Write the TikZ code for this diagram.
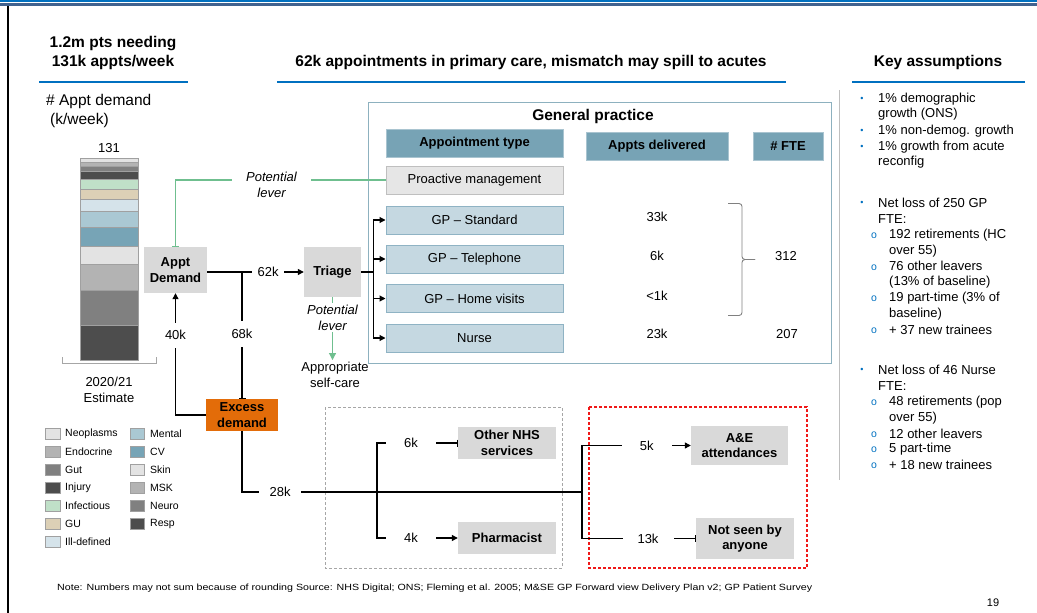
\documentclass[tikz,border=0pt]{standalone}
\usepackage{fontspec}
\usepackage{graphicx}
\setmainfont{Liberation Sans}
\usetikzlibrary{arrows.meta,calc}

\definecolor{topblue}{HTML}{0070C0}
\definecolor{topdark}{HTML}{41628F}
\definecolor{rulegray}{HTML}{BFBFBF}
\definecolor{boxgray}{HTML}{D9D9D9}
\definecolor{lightgray}{HTML}{E6E6E6}
\definecolor{hdrteal}{HTML}{77A3B5}
\definecolor{hdredge}{HTML}{A9C4D0}
\definecolor{rowblue}{HTML}{C5D8E1}
\definecolor{rowedge}{HTML}{8FB3C4}
\definecolor{gpedge}{HTML}{8DB1BF}
\definecolor{lever}{HTML}{6FBF8F}
\definecolor{excess}{HTML}{E36C09}
\definecolor{dashgray}{HTML}{A6A6A6}
\definecolor{dashred}{HTML}{F01818}
\definecolor{cNeo}{HTML}{E3E3E3}
\definecolor{cEndo}{HTML}{B3B3B3}
\definecolor{cGut}{HTML}{808080}
\definecolor{cInj}{HTML}{4D4D4D}
\definecolor{cInf}{HTML}{C0E0C8}
\definecolor{cGU}{HTML}{DCD0B6}
\definecolor{cIll}{HTML}{D5E3EA}
\definecolor{cMent}{HTML}{AAC8D3}
\definecolor{cCV}{HTML}{77A4B6}
\definecolor{segedge}{HTML}{A0A0A0}

\newcommand\setfs[2]{\fontsize{#1}{#2}\selectfont}

\begin{document}
\begin{tikzpicture}[x=1pt,y=-1pt,
  every node/.style={inner sep=0pt, text=black},
  head/.style={font=\setfs{15.5}{19}\bfseries, align=center},
  body/.style={font=\setfs{13}{16}},
  greybox/.style={fill=boxgray, font=\setfs{13}{15.5}\bfseries, align=center},
  colhead/.style={fill=hdrteal, draw=hdredge, line width=1pt, font=\setfs{13}{15.5}\bfseries,
                  minimum height=28pt},
  rowbox/.style={fill=rowblue, draw=rowedge, line width=1pt, font=\setfs{13}{15.5},
                 minimum width=177pt, minimum height=28pt},
  lab/.style={fill=white, font=\setfs{13}{15.5}},
  conn/.style={draw=black, line width=1.1pt},
  arr/.style={conn, -{Triangle[length=6pt,width=6pt]}},
  barr/.style={conn, -{Bar[width=7pt,line width=1pt]}},
  leverline/.style={draw=lever, line width=1.1pt},
  ul/.style={draw=topblue, line width=2pt},
  legtext/.style={font=\setfs{10.5}{12}, anchor=west},
  swatch/.style={draw=segedge, line width=0.8pt},
  ka/.style={font=\setfs{13}{15.5}, anchor=west, align=left},
  dot/.style={font=\setfs{9}{10}, text=topblue},
  ring/.style={font=\setfs{10.5}{10}, text=topblue}
]
\useasboundingbox (0,0) rectangle (1037,613);

% page frame
\fill[topblue] (0,0) rectangle (1037,2.2);
\fill[topdark] (0,3) rectangle (1037,6.2);
\draw[black, line width=2pt] (7.5,6) -- (7.5,613);

% column headings
\node[head] (h1) at (113,52.5) {1.2m pts needing\\131k appts/week};
\node[head] (h2) at (531,62) {62k appointments in primary care, mismatch may spill to acutes};
\node[head] (h3) at (938,62) {Key assumptions};
\draw[ul] (39,82) -- (188,82);
\draw[ul] (277,82) -- (786,82);
\draw[ul] (852,82) -- (1025,82);
\draw[rulegray, line width=1pt] (839,90) -- (839,480);

% demand chart
\node[font=\setfs{15.5}{19}, anchor=west] (yl1) at (46,101) {\# Appt demand};
\node[font=\setfs{15.5}{19}, anchor=west] (yl2) at (50,120) {(k/week)};
\node[font=\setfs{13}{15}] (tot) at (109,148) {131};
\foreach \ya/\yb/\c in {158.3/162.3/cNeo, 162.3/166/cEndo, 166/171/cGut, 171/179/cInj,
    179/189/cInf, 189/199/cGU, 199/211/cIll, 211/227/cMent, 227/246/cCV,
    246/264/cNeo, 264/290/cEndo, 290/325/cGut, 325/360/cInj}
  \filldraw[fill=\c, draw=segedge, line width=0.8pt] (80,\ya) rectangle (138,\yb);
\draw[dashgray, line width=1pt] (62,357) -- (62,363) -- (156,363) -- (156,357);
\node[font=\setfs{13}{16}, align=center] (yr) at (109,390) {2020/21\\Estimate};

% legend
\foreach \i/\c/\t in {0/cNeo/Neoplasms, 1/cEndo/Endocrine, 2/cGut/Gut, 3/cInj/Injury,
    4/cInf/Infectious, 5/cGU/GU, 6/cIll/Ill-defined} {
  \filldraw[swatch, fill=\c] (45,{428.5+18*\i}) rectangle (60,{439.5+18*\i});
  \node[legtext] (la\i) at (65,{434+18*\i}) {\t};
}
\foreach \i/\c/\t in {0/cMent/Mental, 1/cCV/CV, 2/cNeo/Skin, 3/cEndo/MSK,
    4/cGut/Neuro, 5/cInj/Resp} {
  \filldraw[swatch, fill=\c] (130,{428.5+18*\i}) rectangle (144,{439.5+18*\i});
  \node[legtext] (lb\i) at (150,{434+18*\i}) {\t};
}

% demand flow
\node[greybox, minimum width=63pt, minimum height=46pt] (appt) at (175.5,270) {Appt\\Demand};
\node[greybox, minimum width=57pt, minimum height=50pt] (triage) at (332.5,272) {Triage};
\node[greybox, fill=excess, minimum width=72pt, minimum height=32pt] (excess) at (242,415) {Excess\\demand};

% general practice panel
\draw[gpedge, line width=1pt] (368,102) rectangle (831,363);
\node[head] (gp) at (593,116) {General practice};
\node[colhead, minimum width=177pt] (ctype) at (474.5,143) {Appointment type};
\node[colhead, minimum width=142pt] (cdel) at (657,146) {Appts delivered};
\node[colhead, minimum width=70pt] (cfte) at (788,146) {\# FTE};
\node[rowbox, fill=lightgray, draw=rulegray] (pro) at (474.5,180) {Proactive management};
\node[rowbox] (std) at (474.5,220) {GP -- Standard};
\node[rowbox] (tel) at (474.5,259) {GP -- Telephone};
\node[rowbox] (home) at (474.5,298.5) {GP -- Home visits};
\node[rowbox] (nurse) at (474.5,338) {Nurse};
\node[body] (d1) at (657,217) {33k};
\node[body] (d2) at (657,256) {6k};
\node[body] (d3) at (657,296) {<1k};
\node[body] (d4) at (657,334) {23k};
\node[body] (f1) at (786,256) {312};
\node[body] (f2) at (787,334) {207};
% brace grouping the three GP rows
\draw[cGut, line width=0.9pt, rounded corners=3pt]
  (728,203.5) -- (742,203.5) -- (742,259.5) -- (755,259.5);
\draw[cGut, line width=0.9pt, rounded corners=3pt]
  (728,315.5) -- (742,315.5) -- (742,259.5) -- (755,259.5);

% triage branches
\draw[conn, line width=2pt] (triage.east) -- ++(12,0) coordinate (tj);
\foreach \b in {std,tel,home,nurse}
  \draw[arr] (tj) |- (\b.west);

% main flow connectors
\draw[arr] (appt.east |- triage.west) -- node[lab, pos=0.63, minimum width=32pt, minimum height=16pt] (l62) {62k} (triage.west);
\draw[barr] (triage.west -| excess.north) -- node[lab, pos=0.49, minimum height=26pt] (l68) {68k} (excess.north);
\draw[arr] (excess.west) -| node[lab, pos=0.828, minimum height=25pt] (l40) {40k} (appt.south);

% levers
\node[font=\setfs{13}{16}\itshape, align=center, minimum width=79pt] (pl1) at (271.5,185) {Potential\\lever};
\draw[leverline] (pro.west) -- (pl1.east |- pro.west);
\draw[leverline, -{Bar[width=7pt,line width=1pt]}] (pl1.west |- pro.west) -| (appt.north);
\node[font=\setfs{13}{16}\itshape, align=center, minimum height=29pt] (pl2) at (332.5,317.5) {Potential\\lever};
\node[body, align=center, inner ysep=2pt] (self) at (335,375) {Appropriate\\self-care};
\draw[leverline] (triage.south) -- (pl2.north);
\draw[leverline, -{Triangle[length=7pt,width=7pt]}] (pl2.south) -- (pl2.south |- self.north);

% excess demand spill-over
\draw[dashgray, line width=0.9pt, dash pattern=on 3pt off 2pt] (325,407) rectangle (562,568);
\draw[dashred, line width=1.2pt, dash pattern=on 3pt off 2pt] (589,407) rectangle (807,568);
\node[greybox, minimum width=98pt, minimum height=32pt] (oth) at (507,443) {Other NHS\\services};
\node[greybox, minimum width=98pt, minimum height=32pt] (pharm) at (507,538) {Pharmacist};
\node[greybox, minimum width=97pt, minimum height=39pt] (ae) at (739.5,445.5) {A\&E\\attendances};
\node[greybox, minimum width=98pt, minimum height=41pt] (nsb) at (745,538.5) {Not seen by\\anyone};
\coordinate (jl) at (377,492);
\coordinate (jr) at (582,492);
\draw[conn, line width=1.6pt] (excess.south) |- node[lab, pos=0.556, minimum width=42pt, minimum height=16pt] (l28) {28k} (jr);
\draw[barr] (jl) |- node[lab, pos=0.71, minimum width=50pt, minimum height=16pt] (l6) {6k} (oth.west);
\draw[arr] (jl) |- node[lab, pos=0.71, minimum width=50pt, minimum height=16pt] (l4) {4k} (pharm.west);
\draw[arr] (jr) |- node[lab, pos=0.798, minimum width=50pt, minimum height=16pt] (l5) {5k} (ae.west);
\draw[barr] (jr) |- node[lab, pos=0.79, minimum width=51pt, minimum height=16pt] (l13) {13k} (nsb.west);

% key assumptions
\node[dot] (b1) at (862,99) {•};
\node[ka] (k1) at (878,106.5) {1\% demographic\\growth (ONS)};
\node[dot] (b2) at (862,131) {•};
\node[ka] (k2) at (878,131) {1\% non-demog. growth};
\node[dot] (b3) at (862,147) {•};
\node[ka] (k3) at (878,154.5) {1\% growth from acute\\reconfig};
\node[dot] (b4) at (862,203) {•};
\node[ka] (k4) at (878,211) {Net loss of 250 GP\\FTE:};
\node[ring] (s1) at (874,236) {o};
\node[ka] (k5) at (889,243) {192 retirements (HC\\over 55)};
\node[ring] (s2) at (874,268) {o};
\node[ka] (k6) at (889,274.5) {76 other leavers\\(13\% of baseline)};
\node[ring] (s3) at (874,299) {o};
\node[ka] (k7) at (889,306) {19 part-time (3\% of\\baseline)};
\node[ring] (s4) at (874,331) {o};
\node[ka] (k8) at (889,330) {+ 37 new trainees};
\node[dot] (b5) at (862,370) {•};
\node[ka] (k9) at (878,378) {Net loss of 46 Nurse\\FTE:};
\node[ring] (s5) at (874,403) {o};
\node[ka] (k10) at (889,410) {48 retirements (pop\\over 55)};
\node[ring] (s6) at (874,435) {o};
\node[ka] (k11) at (889,434) {12 other leavers};
\node[ring] (s7) at (874,450) {o};
\node[ka] (k12) at (889,449.5) {5 part-time};
\node[ring] (s8) at (874,466) {o};
\node[ka] (k13) at (889,465) {+ 18 new trainees};

% footer
\node[anchor=west] (note) at (57,588) {\resizebox{755pt}{\height}{\setfs{9}{10}Note: Numbers may not sum because of rounding Source: NHS Digital; ONS; Fleming et al. 2005; M\&SE GP Forward view Delivery Plan v2; GP Patient Survey}};
\node[font=\setfs{11}{12}] (pg) at (993,603) {19};
\end{tikzpicture}
\end{document}
